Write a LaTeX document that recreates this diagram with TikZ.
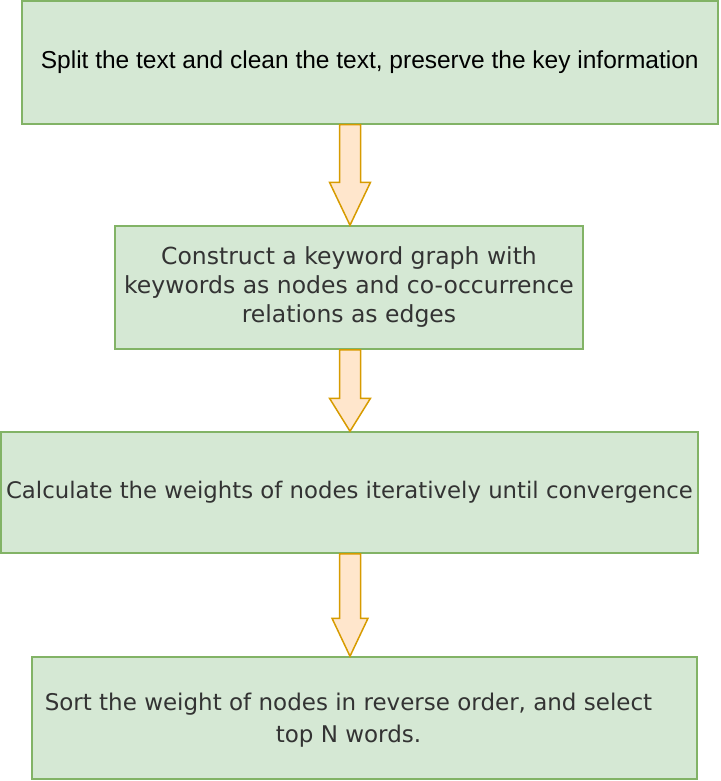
\documentclass[tikz,border=0pt]{standalone}
\usepackage{fontspec}
\setmainfont{Liberation Sans}
\newfontfamily\dejavu{DejaVu Sans}
\usetikzlibrary{calc}
\definecolor{boxfill}{HTML}{D5E8D4}
\definecolor{boxline}{HTML}{82B366}
\definecolor{arrfill}{HTML}{FFE6CC}
\definecolor{arrline}{HTML}{D79B00}
\definecolor{txtgray}{HTML}{333333}
\tikzset{
  stepbox/.style={draw=boxline, fill=boxfill, line width=1.5pt, rectangle,
    inner sep=0pt, align=center},
  fatarrow/.style={draw=arrline, fill=arrfill, line width=1.5pt, line join=miter},
}
% #1 from node, #2 to node, #3 head length, #4 head half width
\newcommand{\fatarr}[4]{%
  \path let \p1=(#1.south), \p2=(#2.north) in
    coordinate (#1-top) at (350pt,\y1)
    coordinate (#1-tip) at (350pt,\y2);
  \draw[fatarrow] let \p1=(#1-top), \p2=(#1-tip) in
    (\x1-10.5pt,\y1) -- (\x1-10.5pt,\y2+#3) -- (\x1-#4,\y2+#3) -- (#1-tip)
    -- (\x1+#4,\y2+#3) -- (\x1+10.5pt,\y2+#3) -- (\x1+10.5pt,\y1) -- cycle;
}
\begin{document}
\begin{tikzpicture}[x=1pt,y=-1pt]
\useasboundingbox (0,0) rectangle (720,781);
\node[stepbox, minimum width=696pt, minimum height=123pt,
  font=\fontsize{24.5}{28}\selectfont] (b1) at (369.75,62.5)
  {Split the text and clean the text, preserve the key information};
\node[stepbox, minimum width=468pt, minimum height=123pt, text=txtgray,
  font=\dejavu\fontsize{23.5}{29}\selectfont] (b2) at (349,287.5)
  {Construct a keyword graph with\\keywords as nodes and co-occurrence\\relations as edges};
\node[stepbox, minimum width=697pt, minimum height=121pt, text=txtgray,
  font=\dejavu\fontsize{22.8}{28}\selectfont] (b3) at (349.5,492.5)
  {Calculate the weights of nodes iteratively until convergence};
\node[stepbox, minimum width=665pt, minimum height=122pt,
  label={[text=txtgray, align=center, xshift=-16pt, yshift=-2pt,
    font=\dejavu\fontsize{23}{31.7}\selectfont]center:Sort the weight of nodes in reverse order, and select\\top N words.}]
  (b4) at (364.5,718) {};
\fatarr{b1}{b2}{43pt}{20.5pt}
\fatarr{b2}{b3}{33pt}{20.5pt}
\fatarr{b3}{b4}{38pt}{18pt}
\end{tikzpicture}
\end{document}
